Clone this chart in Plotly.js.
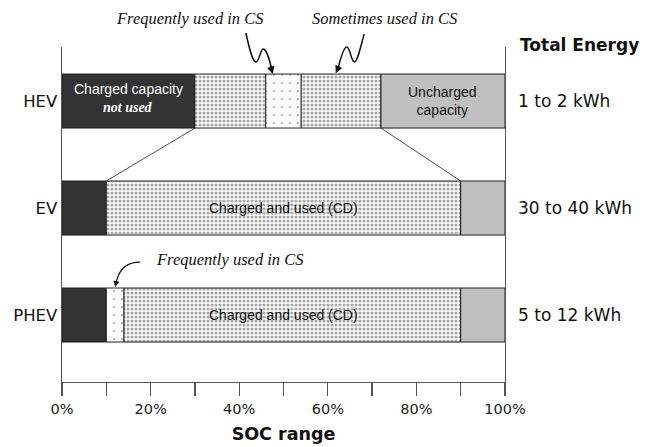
<!DOCTYPE html>
<html>
<head>
<meta charset="utf-8">
<script src="https://cdn.plot.ly/plotly-3.0.1.min.js"></script>
<style>html,body{margin:0;padding:0;background:#fff}#chart{width:645px;height:447px}</style>
</head>
<body>
<div id="chart"></div>
<script>
// ---- data ----
const vehicles = ['HEV', 'EV', 'PHEV'];
const vehicleY = [3, 2, 1];
const totalEnergy = ['1 to 2 kWh', '30 to 40 kWh', '5 to 12 kWh'];
// SOC boundaries (%) of each segment, per vehicle
const hevBounds = [0, 30, 46, 54, 72, 100];
const hevTypes = ['unused', 'cs', 'freq', 'cs', 'uncharged'];
const evBounds = [0, 10, 90, 100];
const evTypes = ['unused', 'cd', 'uncharged'];
const phevBounds = [0, 10, 14, 90, 100];
const phevTypes = ['unused', 'freq', 'cd', 'uncharged'];
const xTickVals = [0, 10, 20, 30, 40, 50, 60, 70, 80, 90, 100];
const xTickText = ['0%', '', '20%', '', '40%', '', '60%', '', '80%', '', '100%'];

const hatch = {shape: '.', fgcolor: '#a8a8a8', bgcolor: '#ffffff', size: 4, solidity: 0.5, fillmode: 'replace'};
const styles = {
  unused:    {color: '#333333', pattern: {shape: ''}},
  cs:        {color: '#ffffff', pattern: hatch},
  cd:        {color: '#ffffff', pattern: hatch},
  freq:      {color: '#ffffff', pattern: {shape: '.', fgcolor: '#a0a0a0', bgcolor: '#ffffff', size: 8, solidity: 0.05, fillmode: 'replace'}},
  uncharged: {color: '#c0c0c0', pattern: {shape: ''}}
};

const rows = [
  {y: vehicleY[0], bounds: hevBounds, types: hevTypes},
  {y: vehicleY[1], bounds: evBounds, types: evTypes},
  {y: vehicleY[2], bounds: phevBounds, types: phevTypes}
];

const traces = [];
rows.forEach(r => {
  for (let i = 0; i < r.types.length; i++) {
    const st = styles[r.types[i]];
    traces.push({
      type: 'bar', orientation: 'h',
      y: [r.y], x: [r.bounds[i + 1] - r.bounds[i]], base: [r.bounds[i]],
      width: 0.505,
      marker: {color: st.color, pattern: st.pattern, line: {color: '#222', width: 1}},
      hoverinfo: 'skip', showlegend: false
    });
  }
});

const italic = {family: 'Liberation Serif, Times New Roman, serif', size: 16.5, color: '#111'};
const bartext = 'Liberation Sans Narrow, Arial Narrow, Liberation Sans, Arial, sans-serif';
const side = {family: 'DejaVu Sans, Verdana, sans-serif', size: 17, color: '#111'};
const arrowStyle = {showarrow: true, arrowhead: 2, arrowsize: 1, arrowwidth: 1.5, arrowcolor: '#111', text: ''};

const annotations = [
  {xref: 'x', yref: 'paper', x: 28.9, y: 1.0836, yanchor: 'middle', text: '<i>Frequently used in CS</i>', showarrow: false, font: italic},
  {xref: 'x', yref: 'paper', x: 72.9, y: 1.0836, yanchor: 'middle', text: '<i>Sometimes used in CS</i>', showarrow: false, font: italic},
  {xref: 'x', yref: 'y', x: 37.9, y: 1.523, text: '<i>Frequently used in CS</i>', showarrow: false, font: italic},
  // arrow heads
  Object.assign({xref: 'x', yref: 'y', x: 47.6, y: 3.252, ax: -3, ay: -10}, arrowStyle),
  Object.assign({xref: 'x', yref: 'y', x: 61.8, y: 3.26, ax: 4, ay: -9}, arrowStyle),
  Object.assign({xref: 'x', yref: 'y', x: 12.0, y: 1.262, ax: 2, ay: -9}, arrowStyle, {arrowwidth: 1.2}),
  // bar texts
  {xref: 'x', yref: 'y', x: 15, y: 3.11, text: 'Charged capacity', showarrow: false, font: {family: bartext, size: 14, color: '#fff'}},
  {xref: 'x', yref: 'y', x: 15, y: 2.94, text: '<b><i>not used</i></b>', showarrow: false, font: {family: 'Liberation Serif, Times New Roman, serif', size: 14, color: '#fff'}},
  {xref: 'x', yref: 'y', x: 86, y: 3, text: 'Uncharged<br>capacity', showarrow: false, font: {family: bartext, size: 14, color: '#111'}},
  {xref: 'x', yref: 'y', x: 50, y: 2, text: 'Charged and used (CD)', showarrow: false, font: {family: bartext, size: 14, color: '#111'}},
  {xref: 'x', yref: 'y', x: 50, y: 1, text: 'Charged and used (CD)', showarrow: false, font: {family: bartext, size: 14, color: '#111'}},
  {xref: 'paper', yref: 'paper', x: 1.169, y: 1.006, xanchor: 'center', yanchor: 'middle', text: '<b>Total Energy</b>', showarrow: false, font: side}
];
vehicleY.forEach((v, i) => annotations.push({
  xref: 'paper', yref: 'y', x: 1.025, xanchor: 'left', y: v, text: totalEnergy[i], showarrow: false, font: side
}));

const ln = {color: '#111', width: 1.5};
const shapes = [
  // HEV -> EV connector lines
  {type: 'line', xref: 'x', yref: 'y', x0: hevBounds[1], y0: 2.7475, x1: evBounds[1], y1: 2.2525, line: {color: '#222', width: 0.8}},
  {type: 'line', xref: 'x', yref: 'y', x0: hevBounds[4], y0: 2.7475, x1: evBounds[2], y1: 2.2525, line: {color: '#222', width: 0.8}},
  // squiggly arrow tails (y in paper units so they may rise above the plot area)
  {type: 'path', xref: 'x', yref: 'paper', line: ln,
   path: 'M 41.5 1.0418 C 42.6 0.9764 43.2 0.9552 43.8 0.9552 C 44.5 0.9552 44.8 0.9940 45.4 0.9940 C 46.1 0.9940 46.9 0.9603 47.3 0.9346'},
  {type: 'path', xref: 'x', yref: 'paper', line: ln,
   path: 'M 68.2 1.0388 C 67.3 0.9922 66.6 0.9552 66.0 0.9552 C 65.3 0.9552 65.0 1.0 64.3 1.0 C 63.6 1.0 62.9 0.9666 62.4 0.9409'},
  {type: 'path', xref: 'x', yref: 'y', line: {color: '#111', width: 1.2},
   path: 'M 17.6 1.495 C 14.9 1.495 13.1 1.439 12.4 1.33'}
];

const layout = {
  width: 645, height: 447,
  margin: {l: 62, r: 140, t: 47, b: 65},
  paper_bgcolor: '#fff', plot_bgcolor: '#fff',
  barmode: 'overlay',
  xaxis: {
    range: [0, 100], tickvals: xTickVals, ticktext: xTickText,
    ticks: 'outside', ticklen: 13, tickwidth: 1.4, tickcolor: '#555',
    showline: true, linecolor: '#555', linewidth: 1.4, showgrid: false, zeroline: false,
    tickfont: {family: 'DejaVu Sans, Verdana, sans-serif', size: 14.5, color: '#222'},
    title: {text: '<b>SOC range</b>', font: {family: 'DejaVu Sans, Verdana, sans-serif', size: 17.5, color: '#111'}, standoff: 12},
    fixedrange: true
  },
  yaxis: {
    range: [0.374, 3.505], tickvals: vehicleY, ticktext: vehicles,
    ticks: '', showline: true, mirror: true, linecolor: '#555', linewidth: 1.4,
    showgrid: false, zeroline: false,
    tickfont: {family: 'DejaVu Sans, Verdana, sans-serif', size: 16.5, color: '#111'},
    fixedrange: true
  },
  annotations: annotations,
  shapes: shapes
};

Plotly.newPlot('chart', traces, layout, {displayModeBar: false, staticPlot: true});
</script>
</body>
</html>
